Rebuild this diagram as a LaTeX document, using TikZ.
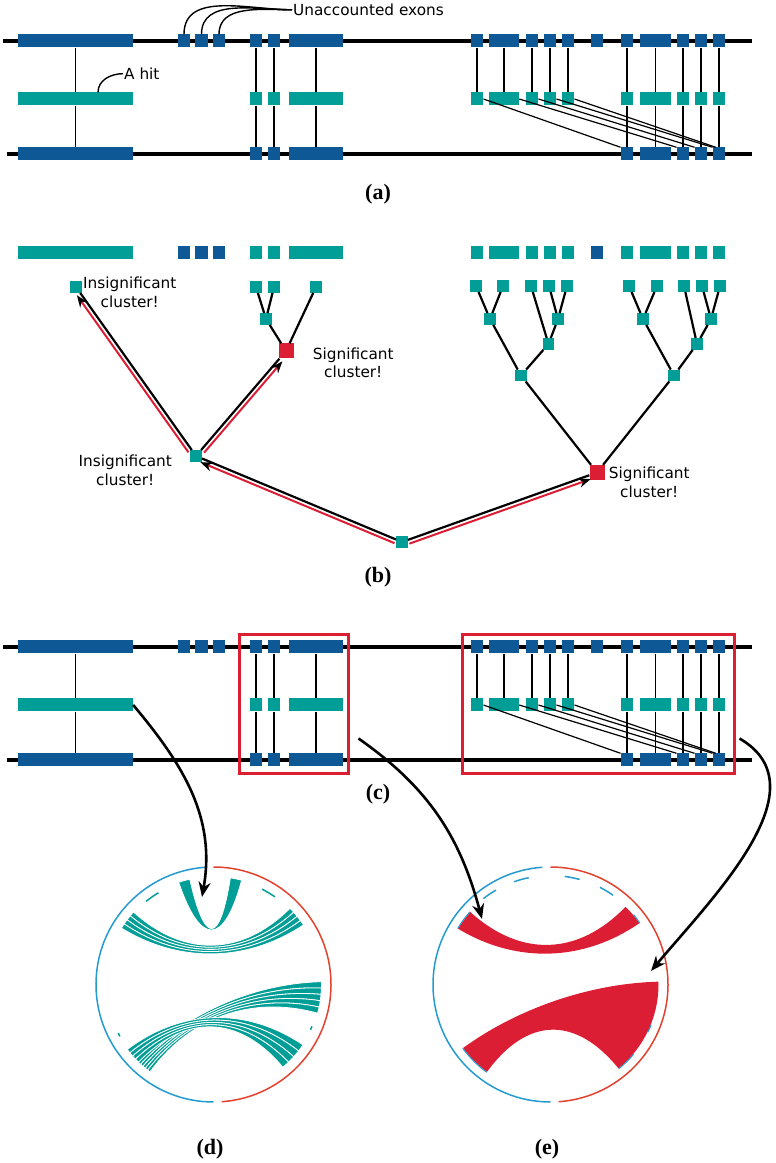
\documentclass[tikz,border=0pt]{standalone}
\usepackage{fontspec}
\setmainfont{DejaVu Sans}
\newfontfamily\panelfont{Liberation Serif}
\usetikzlibrary{positioning, arrows.meta, calc}

\definecolor{exonblue}{RGB}{14,88,150}
\definecolor{hitteal}{RGB}{0,158,150}
\definecolor{sigred}{RGB}{220,30,52}
\definecolor{circblue}{RGB}{35,155,208}
\definecolor{circred}{RGB}{226,66,46}

\newcommand{\ribbon}[5]{($(#1)+(#2:108pt)$) arc[start angle=#2, end angle=#3, radius=108pt]
  .. controls ($(#1)+(#3:40pt)$) and ($(#1)+(#4:40pt)$) .. ($(#1)+(#4:108pt)$)
  arc[start angle=#4, end angle=#5, radius=108pt]
  .. controls ($(#1)+(#5:40pt)$) and ($(#1)+(#2:40pt)$) .. cycle}

\tikzset{
  exon/.style={rectangle, fill=exonblue, inner sep=0pt, minimum height=13pt, minimum width=#1pt},
  exon/.default=12.5,
  hit/.style={exon=#1, fill=hitteal},
  hit/.default=12.5,
  chrom/.style={line width=3.2pt},
  link/.style={line width=1.2pt},
  note/.style={line width=1.4pt},
  lbl/.style={font=\fontsize{15.3}{18.8}\selectfont, inner sep=1pt},
  panel/.style={font=\panelfont\bfseries\fontsize{22}{24}\selectfont, inner sep=0pt},
  leaf/.style={rectangle, fill=hitteal, inner sep=0pt, minimum size=11.5pt},
  sig/.style={rectangle, fill=sigred, inner sep=0pt, minimum size=15pt},
  branch/.style={line width=2.2pt},
  trail/.style={sigred, line width=2pt, -{Stealth[color=black, length=12pt, width=9pt]}},
  regionbox/.style={draw=sigred, line width=3pt, inner sep=0pt},
  jump/.style={line width=2.6pt, -{Stealth[length=15pt, width=12pt]}},
  chord/.style={fill=hitteal, draw=white, line width=0.8pt},
  sigchord/.style={fill=sigred},
  rim/.style={line width=1.5pt}
}

\begin{document}
\begin{tikzpicture}[x=1pt, y=1pt]
\useasboundingbox (0,0) rectangle (776,1163);

% genome rows of (a) and (c)
\foreach \p/\dy in {a/0, c/606}{
  \draw[chrom] (3,1122-\dy) -- (752,1122-\dy);
  \draw[chrom] (7,1009-\dy) -- (752,1009-\dy);
  \foreach \x/\w [count=\i] in {75.5/115, 184/12.5, 201.5/12.5, 219/12.5, 256/12.5, 274/12.5, 316/54, 477/12.5, 504/30, 532/12.5, 550/12.5, 568/12.5, 597/12.5, 627/12.5, 655.5/31, 683/12.5, 701/12.5, 719/12.5}
    \node[exon=\w] (\p t\i) at (\x,1122-\dy) {};
  \foreach \x/\w [count=\i] in {75.5/115, 256/12.5, 274/12.5, 316/54, 477/12.5, 504/30, 532/12.5, 550/12.5, 568/12.5, 627/12.5, 655.5/31, 683/12.5, 701/12.5, 719/12.5}
    \node[hit=\w] (\p m\i) at (\x,1064-\dy) {};
  \foreach \x/\w [count=\i] in {75.5/115, 256/12.5, 274/12.5, 316/54, 627/12.5, 655.5/31, 683/12.5, 701/12.5, 719/12.5}
    \node[exon=\w] (\p b\i) at (\x,1009-\dy) {};
  \foreach \u/\v in {t1/m1, t5/m2, t6/m3, t7/m4, t8/m5, t9/m6, t10/m7, t11/m8, t12/m9, t14/m10, t15/m11, t16/m12, t17/m13, t18/m14, m1/b1, m2/b2, m3/b3, m4/b4, m10/b5, m11/b6, m12/b7, m13/b8, m14/b9}
    \draw[link] (\p\u) -- (\p\v);
  \draw[link] (\p m5.east) -- (\p b5.north west);
  \draw[link] (\p m6.east) -- (\p b7.north west);
  \draw[link] (\p m7.east) -- (\p b8.north west);
  \draw[link] (\p m8.east) -- (\p b9.north west);
  \draw[link] (\p m9.east) -- ($(\p b9.north west)!0.5!(\p b9.north)$);
}

\node[lbl, anchor=base west] (unacc) at (292,1147.5) {Unaccounted exons};
\foreach \i in {2,3,4}
  \draw[note] (at\i.north) to[out=90, in=180] (unacc.west);
\node[lbl, anchor=base west] (hitlbl) at (123,1083.5) {A hit};
\draw[note] ([xshift=22.5pt]am1.north) to[out=90, in=180] (hitlbl.west);

% (b) clustering tree
\foreach \x/\w/\col [count=\i] in {75.5/115/hitteal, 184/12.5/exonblue, 201.5/12.5/exonblue, 219/12.5/exonblue, 256/12.5/hitteal, 274/12.5/hitteal, 316/54/hitteal, 477/12.5/hitteal, 504/30/hitteal, 532/12.5/hitteal, 550/12.5/hitteal, 568/12.5/hitteal, 597/12.5/exonblue, 627/12.5/hitteal, 655.5/31/hitteal, 683/12.5/hitteal, 701/12.5/hitteal, 719/12.5/hitteal}
  \node[exon=\w, fill=\col] (row\i) at (\x,910.5) {};

\node[leaf] (lf1) at (76,876) {};
\node[leaf] (lf2) at (256,876) {};
\node[leaf] (lf3) at (274,876) {};
\node[leaf] (lf4) at (316,876) {};
\node[leaf] (n23) at (266,844) {};
\node[sig] (sigA) at (286,812) {};
\node[leaf] (midI) at (196,707) {};
\node[leaf] (root) at (402,621) {};
\node[sig] (sigB) at (597,690.5) {};
\foreach \x [count=\i] in {476,503,531,549,567,629,657,684,702,720}
  \node[leaf] (r\i) at (\x,877) {};
\node[leaf] (p12) at (490,844) {};
\node[leaf] (p45) at (558,844) {};
\node[leaf] (p345) at (548.5,819) {};
\node[leaf] (pL) at (521,787.5) {};
\node[leaf] (p67) at (643,844) {};
\node[leaf] (p910) at (711,844) {};
\node[leaf] (p8910) at (697,819) {};
\node[leaf] (pR) at (674,787.5) {};

\foreach \u/\v in {n23/lf2, n23/lf3, sigA/n23, sigA/lf4, midI/lf1, midI/sigA, root/midI, root/sigB, sigB/pL, sigB/pR, pL/p12, pL/p345, p12/r1, p12/r2, p345/r3, p345/p45, p45/r4, p45/r5, pR/p67, pR/p8910, p67/r6, p67/r7, p8910/r8, p8910/p910, p910/r9, p910/r10}
  \draw[branch] (\u) -- (\v);

\draw[trail, transform canvas={shift={(-3.3,-2.3)}}] (midI) -- (lf1);
\draw[trail, transform canvas={shift={(3,-2.6)}}] (midI) -- (sigA);
\draw[trail, transform canvas={shift={(-1.5,-3.7)}}] (root) -- (midI);
\draw[trail, transform canvas={shift={(1.4,-3.8)}}] (root) -- (sigB);

\node[lbl, align=center, anchor=north west] (insigTop) at ([yshift=5pt]lf1.north east) {Insignificant\\cluster!};
\node[lbl, align=center, anchor=north west] (sigTop) at ([xshift=18pt, yshift=-3pt]sigA.north east) {Significant\\cluster!};
\node[lbl, align=center, anchor=north east] (insigMid) at ([xshift=-17pt, yshift=2pt]midI.west) {Insignificant\\cluster!};
\node[lbl, align=center, anchor=north west] (sigRight) at ([xshift=3pt, yshift=-1pt]sigB.north east) {Significant\\cluster!};

% (c) selected regions
\node[regionbox, minimum width=109pt, minimum height=139pt] (box1) at (293.5,458.5) {};
\node[regionbox, minimum width=272pt, minimum height=139pt] (box2) at (598,458.5) {};

% (d) and (e) circos plots
\coordinate (cd) at (213.5,178.5);
\coordinate (ce) at (550.5,178.5);
\foreach \cc in {cd, ce}{
  \draw[rim, circblue] ($(\cc)+(94:117.5pt)$) arc[start angle=94, end angle=270, radius=117.5pt];
  \draw[rim, circred] ($(\cc)+(-86:117.5pt)$) arc[start angle=-86, end angle=90, radius=117.5pt];
}

\path[chord] \ribbon{cd}{102.7}{108.8}{74.9}{81};
\foreach \lo/\hi/\rlo/\rhi/\n in {137.8/148.5/33.5/44.9/4, 226/234/-15.4/1.5/5, 217/226/-50/-34/4}
  \foreach \k in {1,...,\n}{
    \pgfmathsetmacro{\la}{\lo+(\k-1)*(\hi-\lo)/\n}
    \pgfmathsetmacro{\lb}{\lo+\k*(\hi-\lo)/\n}
    \pgfmathsetmacro{\ra}{\rhi-\k*(\rhi-\rlo)/\n}
    \pgfmathsetmacro{\rb}{\rhi-(\k-1)*(\rhi-\rlo)/\n}
    \path[chord] \ribbon{cd}{\la}{\lb}{\ra}{\rb};
  }
\foreach \sa/\sb in {121/129, 55/63, 207/209, -25/-23}
  \draw[rim, hitteal] ($(cd)+(\sa:107pt)$) arc[start angle=\sa, end angle=\sb, radius=107pt];

\path[sigchord] \ribbon{ce}{137.9}{148.9}{34.6}{46};
\path[sigchord] \ribbon{ce}{216}{234}{-51}{1.5};
\foreach \sa/\sb in {137.9/148.9, 216/234, 34.6/40, -51/-40, -26/-22}
  \draw[circblue, line width=1pt] ($(ce)+(\sa:108.5pt)$) arc[start angle=\sa, end angle=\sb, radius=108.5pt];
\foreach \sa/\sb in {120/128, 101.5/109.5, 74.5/82.5, 55/63}
  \draw[rim, circblue] ($(ce)+(\sa:109pt)$) arc[start angle=\sa, end angle=\sb, radius=109pt];

\coordinate (tipD) at (202,266);
\coordinate (tipE1) at (482,244);
\coordinate (tipE2) at (651,192);
\draw[jump] (cm1.east) to[out=-50, in=80] (tipD);
\draw[jump] ($(box1.south east)+(9,37)$) to[out=-35, in=105] (tipE1);
\draw[jump] ($(box2.south east)+(4,37)$) to[out=-30, in=50] (tipE2);

\node[panel] (labA) at (378,969) {(a)};
\node[panel] (labB) at (378,586) {(b)};
\node[panel] (labC) at (378,369) {(c)};
\node[panel] (labD) at (210,14) {(d)};
\node[panel] (labE) at (547,14) {(e)};
\end{tikzpicture}
\end{document}
